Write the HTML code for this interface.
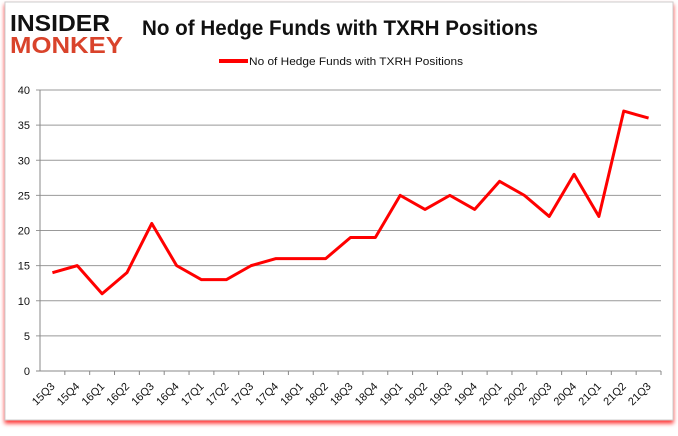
<!DOCTYPE html>
<html><head><meta charset="utf-8"><style>
body{margin:0;background:#fff;font-family:"Liberation Sans",sans-serif}
</style></head><body>
<svg width="678" height="431" xmlns="http://www.w3.org/2000/svg">
<defs><filter id="sh" x="-5%" y="-5%" width="110%" height="115%"><feDropShadow dx="0" dy="3" stdDeviation="2" flood-color="#f00" flood-opacity="0.8"/></filter></defs>
<rect x="5" y="2" width="668" height="418" fill="#fff" stroke="#ccc" filter="url(#sh)"/>
<g>
<text x="10" y="31" font-size="23" font-weight="bold" font-family="Liberation Sans" fill="#111" textLength="100" lengthAdjust="spacingAndGlyphs">INSIDER</text>
<text x="10" y="53" font-size="23" font-weight="bold" font-family="Liberation Sans" fill="#d9432b" textLength="113" lengthAdjust="spacingAndGlyphs">MONKEY</text>
</g>
<text x="142" y="35" font-size="21" font-weight="bold" fill="#111" textLength="396" lengthAdjust="spacingAndGlyphs">No of Hedge Funds with TXRH Positions</text>
<line x1="219" y1="61" x2="248" y2="61" stroke="red" stroke-width="4"/>
<text x="249" y="65" font-size="11" fill="#111" textLength="214" lengthAdjust="spacingAndGlyphs">No of Hedge Funds with TXRH Positions</text>
<g id="plot"></g>
</svg>
<script>
const categories=["15Q3","15Q4","16Q1","16Q2","16Q3","16Q4","17Q1","17Q2","17Q3","17Q4","18Q1","18Q2","18Q3","18Q4","19Q1","19Q2","19Q3","19Q4","20Q1","20Q2","20Q3","20Q4","21Q1","21Q2","21Q3"];
const values=[14,15,11,14,21,15,13,13,15,16,16,16,19,19,25,23,25,23,27,25,22,28,22,37,36];
const yTicks=[0,5,10,15,20,25,30,35,40];
const ns="http://www.w3.org/2000/svg",g=document.getElementById('plot');
const L=40,R=661,T=90,B=371,bw=(R-L)/categories.length;
const x=i=>L+bw*(i+0.5), y=v=>B-(v/40)*(B-T);
function mk(t,a){const e=document.createElementNS(ns,t);for(const k in a)e.setAttribute(k,a[k]);g.appendChild(e);return e;}
yTicks.forEach(v=>{
 const l=mk('line',{x1:L-4,x2:R,y1:y(v),y2:y(v),stroke:v===0?'#888':'#999','stroke-width':1});
 
 
 const t=mk('text',{x:L-10,y:y(v)+4,'font-size':11,'text-anchor':'end',fill:'#111'});t.textContent=v;
 
 
});
const ax=mk('line',{x1:L,x2:L,y1:T,y2:B,stroke:'#888'});


categories.forEach((c,i)=>{
 const tk=mk('line',{x1:L+bw*(i+1),x2:L+bw*(i+1),y1:B,y2:B+4,stroke:'#888'});
 
 
 const t=mk('text',{x:x(i)+3,y:B+16,'font-size':11,'text-anchor':'end',fill:'#111',transform:`rotate(-45 ${x(i)+3} ${B+16})`});t.textContent=c;
 
 
});
const p=mk('polyline',{points:values.map((v,i)=>x(i)+','+y(v)).join(' '),fill:'none',stroke:'red','stroke-width':3,'stroke-linejoin':'round'});


</script>
</body></html>
